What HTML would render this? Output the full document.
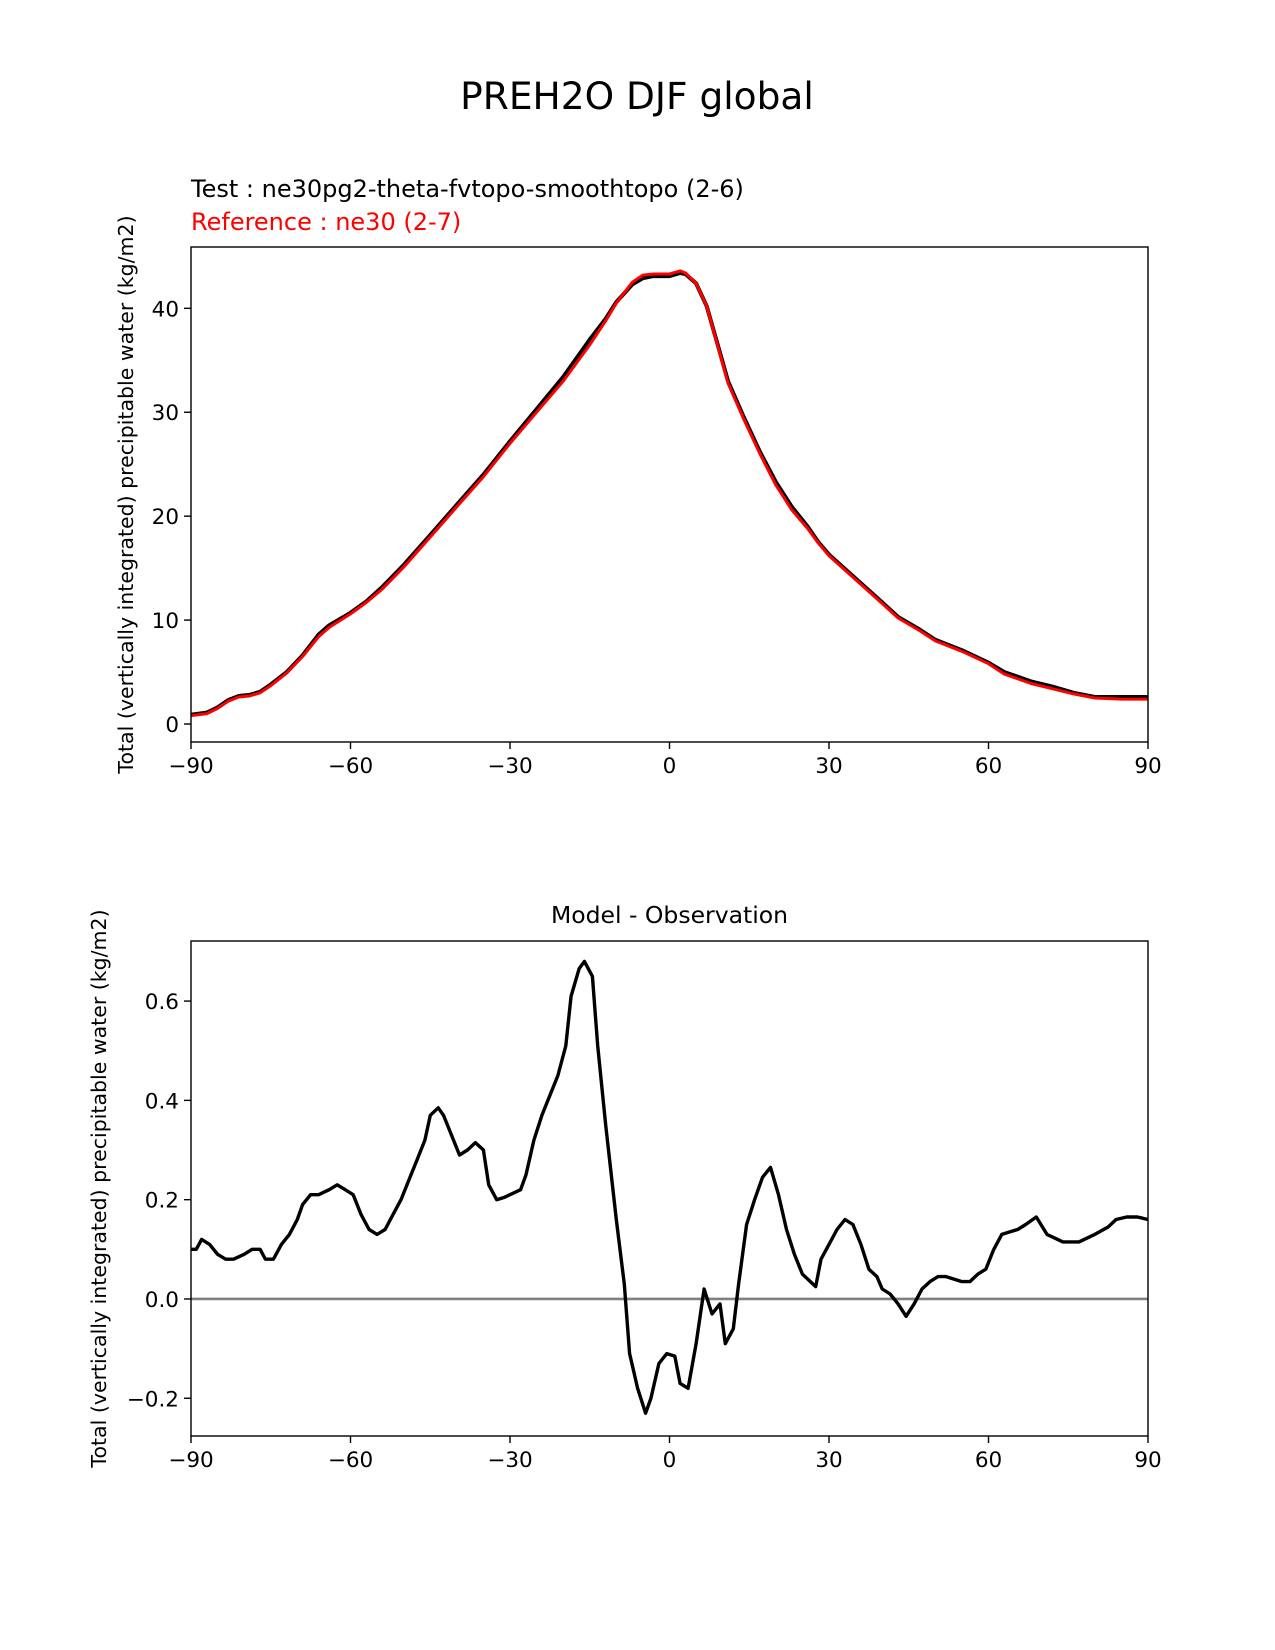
<!DOCTYPE html>
<html><head><meta charset="utf-8"><style>
body{margin:0;background:#fff}
svg{display:block;font-family:"DejaVu Sans","Liberation Sans",sans-serif}
</style></head><body>
<svg id="fig" width="1275" height="1650" viewBox="0 0 1275 1650" xmlns="http://www.w3.org/2000/svg">
<rect width="1275" height="1650" fill="#fff"/>
<text x="637" y="109" font-size="37.5" text-anchor="middle">PREH2O DJF global</text>
<text x="191" y="197" font-size="24">Test : ne30pg2-theta-fvtopo-smoothtopo (2-6)</text>
<text x="191" y="230" font-size="24" fill="#ff0000">Reference : ne30 (2-7)</text>
<text x="669.5" y="923" font-size="23.5" text-anchor="middle">Model - Observation</text>
<g id="top"></g>
<g id="bot"></g>
</svg>
<script>
const topLat=[-90,-87,-85,-83,-81,-79,-77,-75,-72,-69,-66,-64,-60,-57,-54,-50,-45,-40,-35,-30,-25,-20,-15,-12,-10,-7,-5,-3,0,2,3,5,7,9,11,14,17,20,23,26,28,30,35,40,43,47,50,55,60,63,68,72,76,80,85,90];
const testVals=[0.9,1.1,1.6,2.3,2.7,2.8,3.1,3.8,5.0,6.6,8.6,9.5,10.7,11.8,13.2,15.3,18.2,21.1,24.0,27.2,30.3,33.4,37.0,39.0,40.6,42.3,42.9,43.1,43.1,43.4,43.3,42.4,40.2,36.6,33.0,29.5,26.2,23.3,20.9,19.0,17.5,16.3,14.0,11.7,10.3,9.1,8.1,7.1,5.9,5.0,4.1,3.6,3.0,2.6,2.6,2.6];
const refVals=[0.8,1.0,1.5,2.2,2.6,2.7,3.0,3.7,4.9,6.5,8.4,9.3,10.6,11.7,13.0,15.1,18.0,20.9,23.8,27.0,30.0,33.0,36.5,38.8,40.5,42.5,43.2,43.3,43.3,43.6,43.4,42.4,40.2,36.5,32.8,29.3,26.0,23.0,20.6,18.8,17.4,16.2,13.9,11.6,10.2,9.0,8.0,7.0,5.8,4.8,3.9,3.4,2.9,2.5,2.4,2.4];
const diffLat=[-90,-89,-88,-86.5,-85,-83.5,-82,-80,-78.5,-77,-76,-74.5,-73,-71.5,-70,-69,-67.5,-66,-64,-62.5,-61,-59.5,-58,-56.5,-55,-53.5,-52,-50.5,-49,-47.5,-46,-45,-43.5,-42.5,-41,-39.5,-38,-36.5,-35,-34,-32.5,-31,-29,-28,-27,-25.5,-24,-22.5,-21,-19.5,-18.5,-17,-16,-14.5,-13.5,-12,-10,-8.5,-7.5,-6,-4.5,-3.5,-2,-0.5,1,2,3.5,5,6.5,8,9.5,10.5,12,13,14.5,16,17.5,19,20.5,22,23.5,25,27.5,28.5,30,31.5,33,34.5,36,37.5,39,40,41.5,43,44.5,46,47.5,49,50.5,52,55,56.5,58,59.5,61,62.5,64,65.5,67,69,71,74,77,80,82.5,84,86,88,90];
const diffVals=[0.10,0.10,0.12,0.11,0.09,0.08,0.08,0.09,0.10,0.10,0.08,0.08,0.11,0.13,0.16,0.19,0.21,0.21,0.22,0.23,0.22,0.21,0.17,0.14,0.13,0.14,0.17,0.20,0.24,0.28,0.32,0.37,0.385,0.37,0.33,0.29,0.30,0.315,0.30,0.23,0.20,0.205,0.215,0.22,0.25,0.32,0.37,0.41,0.45,0.51,0.61,0.665,0.68,0.65,0.51,0.35,0.16,0.03,-0.11,-0.18,-0.23,-0.20,-0.13,-0.11,-0.115,-0.17,-0.18,-0.09,0.02,-0.03,-0.01,-0.09,-0.06,0.03,0.15,0.20,0.245,0.265,0.21,0.14,0.09,0.05,0.025,0.08,0.11,0.14,0.16,0.15,0.11,0.06,0.045,0.02,0.01,-0.01,-0.035,-0.01,0.02,0.035,0.045,0.045,0.035,0.035,0.05,0.06,0.10,0.13,0.135,0.14,0.15,0.165,0.13,0.115,0.115,0.13,0.145,0.16,0.165,0.165,0.16];
const xTicks=[-90,-60,-30,0,30,60,90];
const xTickLabels=["\u221290","\u221260","\u221230","0","30","60","90"];
const topYTicks=[0,10,20,30,40];
const topYLabels=["0","10","20","30","40"];
const botYTicks=[-0.2,0,0.2,0.4,0.6];
const botYLabels=["\u22120.2","0.0","0.2","0.4","0.6"];
const NS="http://www.w3.org/2000/svg";
function mk(tag,attrs,parent){const e=document.createElementNS(NS,tag);for(const k in attrs)e.setAttribute(k,attrs[k]);parent.appendChild(e);return e;}
const L=191,R=1148;
const sx=v=>L+(v+90)/180*(R-L);
function panel(g,top,bot,ymin,ymax,yTicks,yLabels,ylabX,name){
  const sy=v=>bot-(v-ymin)/(ymax-ymin)*(bot-top);
  xTicks.forEach((t,i)=>{
    const l=mk('line',{x1:sx(t),x2:sx(t),y1:bot,y2:bot+7,stroke:'#000','stroke-width':1.4},g);
    
    
    const tx=mk('text',{x:sx(t),y:bot+31,'font-size':21.5,'text-anchor':'middle'},g);tx.textContent=xTickLabels[i];
    
    
  });
  yTicks.forEach((t,i)=>{
    const l=mk('line',{x1:L-7,x2:L,y1:sy(t),y2:sy(t),stroke:'#000','stroke-width':1.4},g);
    
    
    const tx=mk('text',{x:L-12,y:sy(t)+8,'font-size':21.5,'text-anchor':'end'},g);tx.textContent=yLabels[i];
    
    
  });
  const yl=mk('text',{x:0,y:0,'font-size':20.5,'text-anchor':'middle',transform:`translate(${ylabX},${(top+bot)/2}) rotate(-90)`},g);
  yl.textContent='Total (vertically integrated) precipitable water (kg/m2)';
  
  
  return sy;
}
function line(g,xs,ys,sy,color,w,name){
  const d=xs.map((x,i)=>(i?'L':'M')+sx(x).toFixed(1)+','+sy(ys[i]).toFixed(1)).join(' ');
  const p=mk('path',{d:d,fill:'none',stroke:color,'stroke-width':w,'stroke-linejoin':'round'},g);
  
  
}
const gt=document.getElementById('top');
const syT=panel(gt,247,742,-1.73,45.9,topYTicks,topYLabels,133,'top');
line(gt,topLat,testVals,syT,'#000',4,'test-line');
line(gt,topLat,refVals,syT,'#ff0000',3,'reference-line');
const ft=mk('rect',{x:L,y:247,width:R-L,height:742-247,fill:'none',stroke:'#000','stroke-width':1.4},gt);


const gb=document.getElementById('bot');
const syB=panel(gb,941,1436,-0.276,0.721,botYTicks,botYLabels,106,'difference');
const z=mk('line',{x1:L,x2:R,y1:syB(0),y2:syB(0),stroke:'#808080','stroke-width':2.6},gb);


line(gb,diffLat,diffVals,syB,'#000',3.4,'difference-line');
const fb=mk('rect',{x:L,y:941,width:R-L,height:1436-941,fill:'none',stroke:'#000','stroke-width':1.4},gb);


</script>
</body></html>
